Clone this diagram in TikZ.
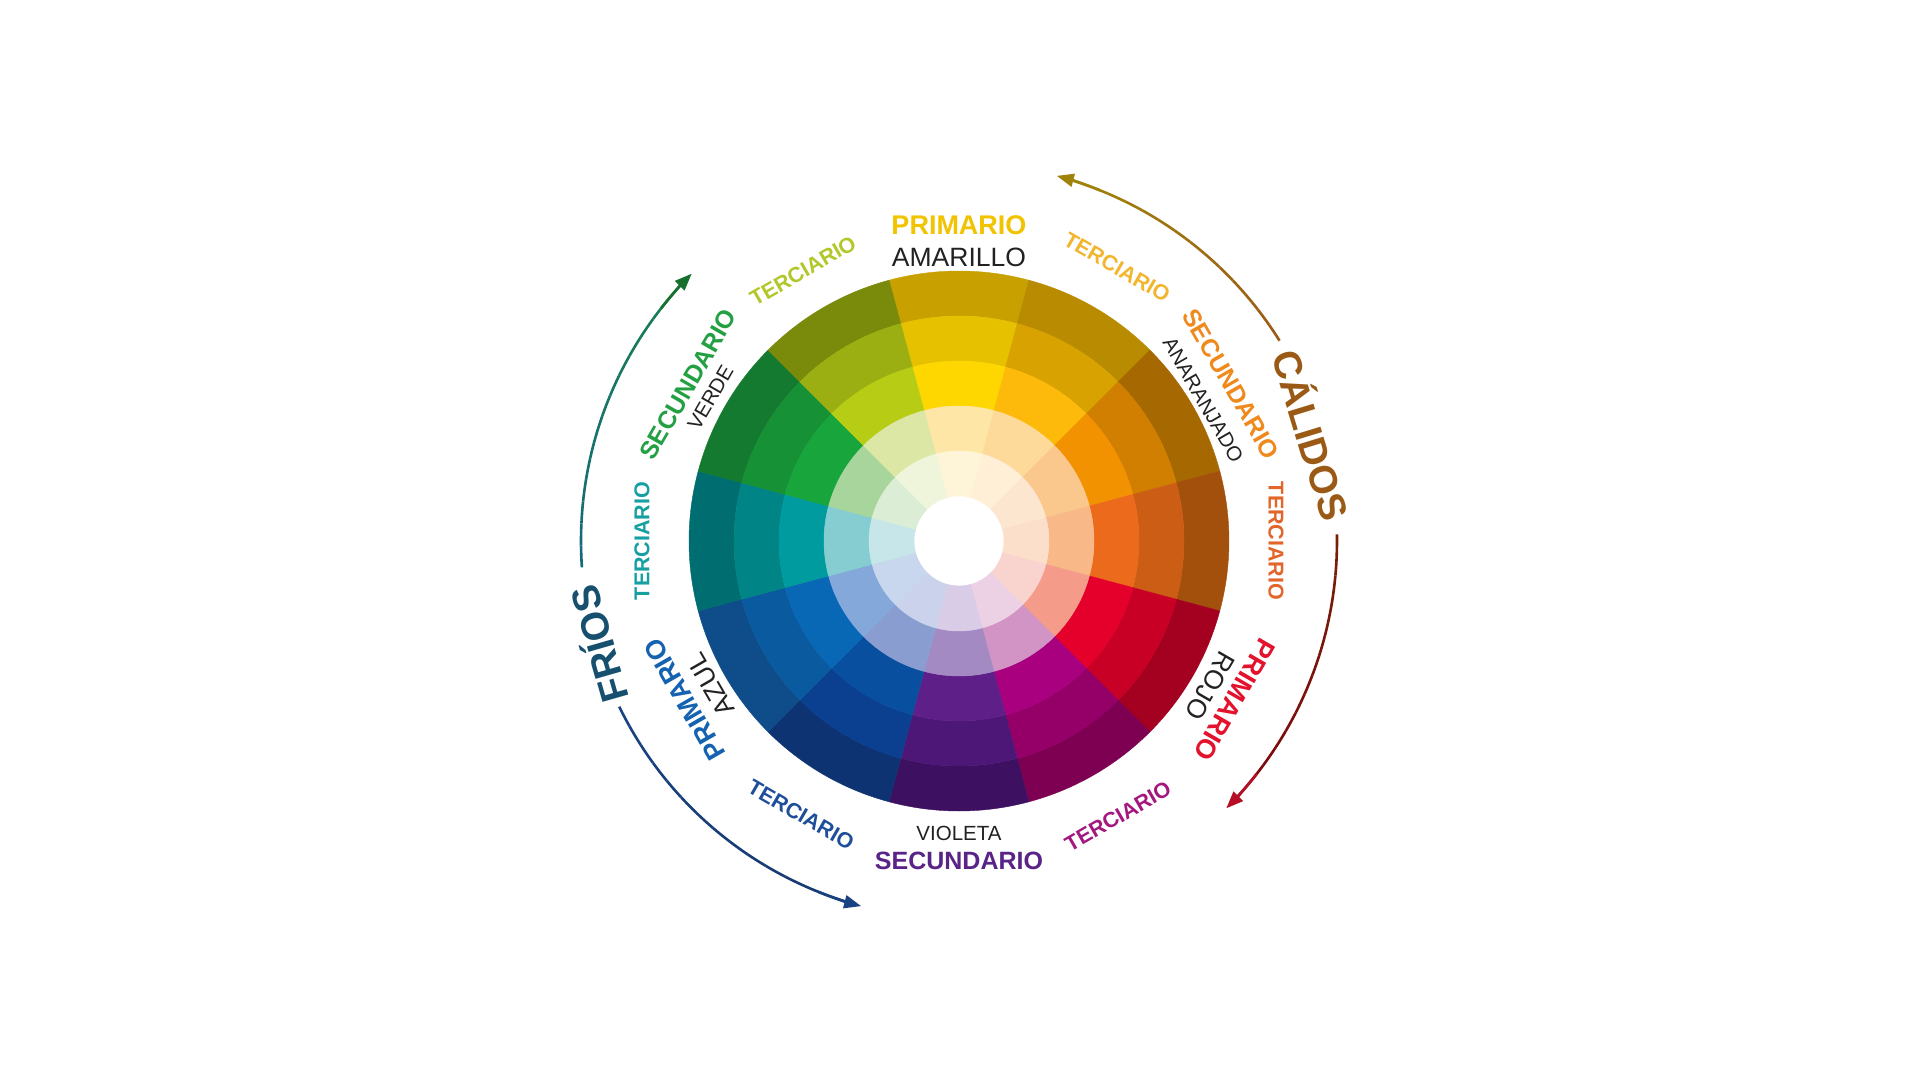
\documentclass[tikz,border=0pt]{standalone}
\usepackage{fontspec}
\setmainfont{Liberation Sans}
\usetikzlibrary{arrows.meta}

\definecolor{amarillo}{HTML}{F2C300}
\definecolor{terc-ya}{HTML}{B4C72A}
\definecolor{terc-yn}{HTML}{F2B52E}
\definecolor{naranja}{HTML}{F0891C}
\definecolor{terc-rn}{HTML}{E2662A}
\definecolor{rojo}{HTML}{E3122D}
\definecolor{terc-rv}{HTML}{A3177F}
\definecolor{violeta}{HTML}{5A2387}
\definecolor{terc-av}{HTML}{1E4E9A}
\definecolor{azul}{HTML}{1462B0}
\definecolor{terc-va}{HTML}{17A0A2}
\definecolor{verde}{HTML}{22A042}
\definecolor{calido}{HTML}{9A5A16}
\definecolor{frio}{HTML}{16506E}
\definecolor{nombre}{HTML}{222222}

% arc round the wheel, colour running from #3 to #4, tip at #2
\newcommand{\huearc}[4]{%
  \pgfmathsetmacro\gstop{#2-2.4*sign(#2-#1)}%
  \pgfmathsetmacro\tstart{#2-7*sign(#2-#1)}%
  \foreach \k in {1,...,14}{%
    \pgfmathsetmacro\pa{#1+(\k-1)*(\gstop-#1)/14}%
    \pgfmathsetmacro\pb{#1+\k*(\gstop-#1)/14}%
    \pgfmathtruncatemacro\mix{100*(\k-0.5)/14}%
    \draw[arcline, #4!\mix!#3] (\pa:378pt) arc[start angle=\pa, end angle=\pb, radius=378pt];
  }%
  \draw[arcline, #4, -{Triangle[length=17pt,width=13pt]}] (\tstart:378pt) arc[start angle=\tstart, end angle=#2, radius=378pt];%
}

\tikzset{
  arcline/.style={line width=2.6pt},
  catprim/.style={inner sep=0pt, font=\fontsize{27pt}{27pt}\selectfont\bfseries},
  catsec/.style={inner sep=0pt, font=\fontsize{25pt}{25pt}\selectfont\bfseries},
  catterc/.style={inner sep=0pt, font=\fontsize{21.5pt}{21.5pt}\selectfont\bfseries},
  nameprim/.style={inner sep=0pt, text=nombre, font=\fontsize{26.5pt}{26.5pt}\selectfont},
  namesec/.style={inner sep=0pt, text=nombre, font=\fontsize{20.5pt}{20.5pt}\selectfont},
  biglabel/.style={inner sep=0pt, font=\fontsize{39pt}{39pt}\selectfont\bfseries}
}

\begin{document}
\begin{tikzpicture}[x=1pt, y=1pt]
  \fill[white] (-959,-539) rectangle (961,541);
  \useasboundingbox (-959,-539) rectangle (961,541);

  % the wheel: hue angle, then rings from outside to inside
  \foreach \ang/\ca/\cb/\cc/\cd/\ce in {
    90/C8A000/E5C100/FFD700/FEE7A6/FEF5D9,
    60/B98B00/D8A200/FDBA0B/FDDA99/FEEFD6,
    30/A66800/D07F00/F39200/FAC88C/FDE6D0,
    0/A2500C/CB5E14/EC6A1C/F8B888/FCDFCB,
    -30/A4001F/C90026/E4002A/F49B89/F9D4CF,
    -60/7E0052/950068/A8007F/D293C5/ECD1E5,
    -90/3E1062/4D1777/5E1F88/A48AC3/D9CCE7,
    -120/0D3372/0B3F8F/094FA0/8A9DD0/CBD3EC,
    -150/0F4C8A/0A5AA0/0868B5/84A8DA/C8D7EE,
    180/006D70/008486/009B9E/86CDD1/C6E6EA,
    150/137A2F/179135/17A53C/A8D59C/DCEDD5,
    120/7A8A0A/9CAF12/B6CC15/DCE7A6/EFF5DA}{
    \foreach \rin/\col in {225/\ca, 180/\cb, 135/\cc, 90/\cd, 45/\ce}{
      \definecolor{segc}{HTML}{\col}
      \pgfmathsetmacro\rout{\rin+45}
      \fill[segc, draw=segc, line width=0.4pt] ({\ang-15}:\rin pt)
        arc[start angle=\ang-15, end angle=\ang+15, radius=\rin pt]
        -- ({\ang+15}:\rout pt)
        arc[start angle=\ang+15, end angle=\ang-15, radius=\rout pt] -- cycle;
    }
  }

  % labels round the wheel
  \node[catprim, text=amarillo] (prim-am) at (90:316pt) {PRIMARIO};
  \node[nameprim] (am) at (90:284pt) {AMARILLO};
  \node[catterc, text=terc-ya, rotate=30] (terc-ya) at (120:312pt) {TERCIARIO};
  \node[catterc, text=terc-yn, rotate=-30] (terc-yn) at (60:316pt) {TERCIARIO};
  \node[catsec, text=naranja, rotate=-60] (sec-na) at (30:314pt) {SECUNDARIO};
  \node[namesec, rotate=-60] (na) at (30:282pt) {ANARANJADO};
  \node[catterc, text=terc-rn, rotate=-90] (terc-rn) at (0:317pt) {TERCIARIO};
  \node[catprim, text=rojo, rotate=-120] (prim-ro) at (-30:318pt) {PRIMARIO};
  \node[nameprim, rotate=-120] (ro) at (-30:290pt) {ROJO};
  \node[catterc, text=terc-rv, rotate=30] (terc-rv) at (-60:318pt) {TERCIARIO};
  \node[catsec, text=violeta] (sec-vi) at (-90:320pt) {SECUNDARIO};
  \node[namesec] (vi) at (-90:292pt) {VIOLETA};
  \node[catterc, text=terc-av, rotate=-30] (terc-av) at (-120:316pt) {TERCIARIO};
  \node[catprim, text=azul, rotate=120] (prim-az) at (-150:317pt) {PRIMARIO};
  \node[nameprim, rotate=120] (az) at (-150:287pt) {AZUL};
  \node[catterc, text=terc-va, rotate=90] (terc-va) at (180:317pt) {TERCIARIO};
  \node[catsec, text=verde, rotate=60] (sec-ve) at (150:313pt) {SECUNDARIO};
  \node[namesec, rotate=60] (ve) at (150:287pt) {VERDE};

  % warm and cold sides
  \node[biglabel, text=calido, rotate=-73] (calidos) at (16.7:370pt) {CÁLIDOS};
  \node[biglabel, text=frio, rotate=106] (frios) at (-164:377pt) {FRÍOS};

  \huearc{32}{75}{calido}{calido!55!yellow!80!black}
  \huearc{1}{-45}{calido!60!red!60!black}{rojo!80!black}
  \huearc{184}{135}{frio!70!terc-va}{verde!70!black}
  \huearc{206}{255}{terc-av!85!black}{terc-av!85!black}
\end{tikzpicture}
\end{document}
